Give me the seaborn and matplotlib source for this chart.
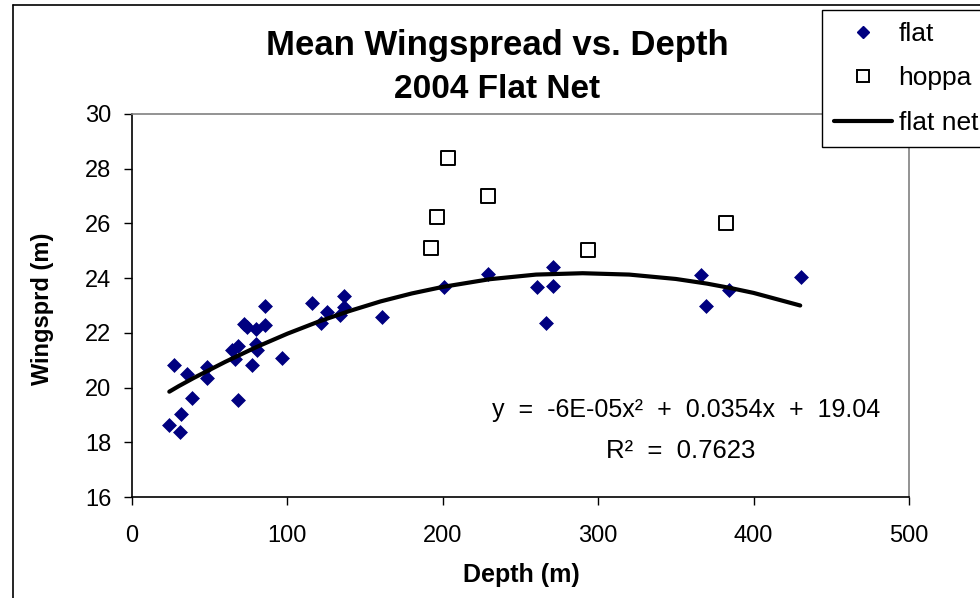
import matplotlib
matplotlib.use("Agg")
import matplotlib.pyplot as plt
import seaborn as sns
import pandas as pd
from matplotlib.lines import Line2D

# ---- data ----
flat_depth = [24.0, 30.9, 31.3, 26.8, 35.6, 38.4, 48.1, 48.5, 64.2, 66.3,
              68.4, 68.0, 72.3, 74.0, 77.0, 79.8, 79.8, 80.2, 85.4, 85.6,
              96.5, 115.6, 121.4, 125.3, 133.8, 136.6, 136.6, 161.1, 200.8, 229.3,
              260.8, 270.7, 270.7, 266.4, 366.2, 369.2, 384.4, 430.3]
flat_wingspread = [18.63, 18.39, 19.02, 20.84, 20.49, 19.63, 20.77, 20.36, 21.37, 21.03,
                   21.52, 19.55, 22.31, 22.20, 20.83, 22.13, 21.59, 21.37, 22.98, 22.29,
                   21.07, 23.08, 22.35, 22.77, 22.65, 23.36, 22.93, 22.59, 23.67, 24.14,
                   23.67, 24.42, 23.73, 22.37, 24.12, 22.98, 23.57, 24.03]

hoppa_depth = [203.5, 229.3, 196.5, 192.2, 293.6, 382.2]
hoppa_wingspread = [28.38, 27.00, 26.25, 25.11, 25.03, 26.03]

net_depth = [24, 30, 40, 60, 80, 100, 120, 140, 160, 180, 200, 230, 260,
             290, 320, 350, 370, 385, 400, 430]
net_wingspread = [19.85, 20.05, 20.36, 20.94, 21.48, 21.97, 22.41, 22.80, 23.15,
                  23.44, 23.68, 23.96, 24.13, 24.18, 24.13, 23.97, 23.80, 23.64,
                  23.46, 23.00]

x_ticks = [0, 100, 200, 300, 400, 500]
y_ticks = [16, 18, 20, 22, 24, 26, 28, 30]

title_lines = ["Mean Wingspread vs. Depth", "2004 Flat Net"]
x_label = "Depth (m)"
y_label = "Wingsprd (m)"
eq_text = "y  =  -6E-05x²  +  0.0354x  +  19.04"
r2_text = "R²  =  0.7623"
series_names = ["flat", "hoppa", "flat net"]

# ---- styling ----
sns.set_theme(style="white")
plt.rcParams['font.family'] = ['Liberation Sans', 'DejaVu Sans']
for key in ["text.color", "axes.labelcolor", "xtick.color", "ytick.color"]:
    plt.rcParams[key] = "black"

W, H = 980, 598
fig = plt.figure(figsize=(W / 100, H / 100), dpi=100)
fig.patch.set_facecolor("white")

left_px, right_px, top_px, bot_px = 132, 909, 114, 497
ax = fig.add_axes([left_px / W, 1 - bot_px / H, (right_px - left_px) / W, (bot_px - top_px) / H])
ax.set_facecolor("white")

flat_df = pd.DataFrame({"depth": flat_depth, "wing": flat_wingspread})
hoppa_df = pd.DataFrame({"depth": hoppa_depth, "wing": hoppa_wingspread})
net_df = pd.DataFrame({"depth": net_depth, "wing": net_wingspread})

navy = "#000080"
sns.scatterplot(data=flat_df, x="depth", y="wing", marker="D", s=50, color=navy,
                edgecolor=navy, linewidth=0.5, ax=ax, zorder=3, legend=False)
sns.scatterplot(data=hoppa_df, x="depth", y="wing", marker="s", s=90, facecolor="white",
                edgecolor="black", linewidth=1.4, ax=ax, zorder=3, legend=False)
sns.lineplot(data=net_df, x="depth", y="wing", color="black", linewidth=3.0,
             estimator=None, sort=False, ax=ax, zorder=4, legend=False)

ax.set_xlim(0, 500)
ax.set_ylim(16, 30)
ax.set_xticks(x_ticks)
ax.set_yticks(y_ticks)
ax.set_xlabel("")
ax.set_ylabel("")
ax.tick_params(axis="both", direction="out", length=6, width=1, colors="black",
               labelsize=17, bottom=True, left=True)
ax.tick_params(axis="x", pad=14)
ax.tick_params(axis="y", pad=9)

for side in ["top", "right"]:
    ax.spines[side].set_color("#808080")
    ax.spines[side].set_linewidth(1.2)
for side in ["left", "bottom"]:
    ax.spines[side].set_color("black")
    ax.spines[side].set_linewidth(1.2)

# titles and labels
fig.text(497 / W, 1 - 46 / H, title_lines[0], ha="center", va="center",
         fontsize=25, fontweight="bold")
fig.text(497 / W, 1 - 90 / H, title_lines[1], ha="center", va="center",
         fontsize=24, fontweight="bold")
fig.text(521 / W, 1 - 575 / H, x_label, ha="center", va="center",
         fontsize=18, fontweight="bold")
fig.text(42 / W, 1 - 309 / H, y_label, ha="center", va="center", rotation=90,
         fontsize=17, fontweight="bold")

fig.text(686 / W, 1 - 410 / H, eq_text, ha="center", va="center", fontsize=18)
fig.text(681 / W, 1 - 451 / H, r2_text, ha="center", va="center", fontsize=18.5)

# legend
handles = [
    Line2D([], [], linestyle="none", marker="D", markersize=6.6, color=navy,
           markeredgecolor=navy),
    Line2D([], [], linestyle="none", marker="s", markersize=9, markerfacecolor="white",
           markeredgecolor="black", markeredgewidth=1.4),
    Line2D([], [], color="black", linewidth=3.0),
]
leg = fig.legend(handles, series_names, loc="upper left",
                 bbox_to_anchor=(822 / W, 1 - 10 / H), fontsize=19,
                 frameon=True, fancybox=False, shadow=False, framealpha=1,
                 edgecolor="black", handlelength=2.2, handletextpad=0.25,
                 labelspacing=0.78, borderpad=0.45, borderaxespad=0)
leg.get_frame().set_linewidth(1.0)
leg.set_zorder(10)

# outer chart border (left and top visible)
fig.add_artist(Line2D([13 / W, 13 / W], [0, 1 - 5 / H], transform=fig.transFigure,
                      color="black", linewidth=1.2))
fig.add_artist(Line2D([13 / W, 1], [1 - 5 / H, 1 - 5 / H], transform=fig.transFigure,
                      color="black", linewidth=1.2))

fig.savefig("out.png", dpi=100)
